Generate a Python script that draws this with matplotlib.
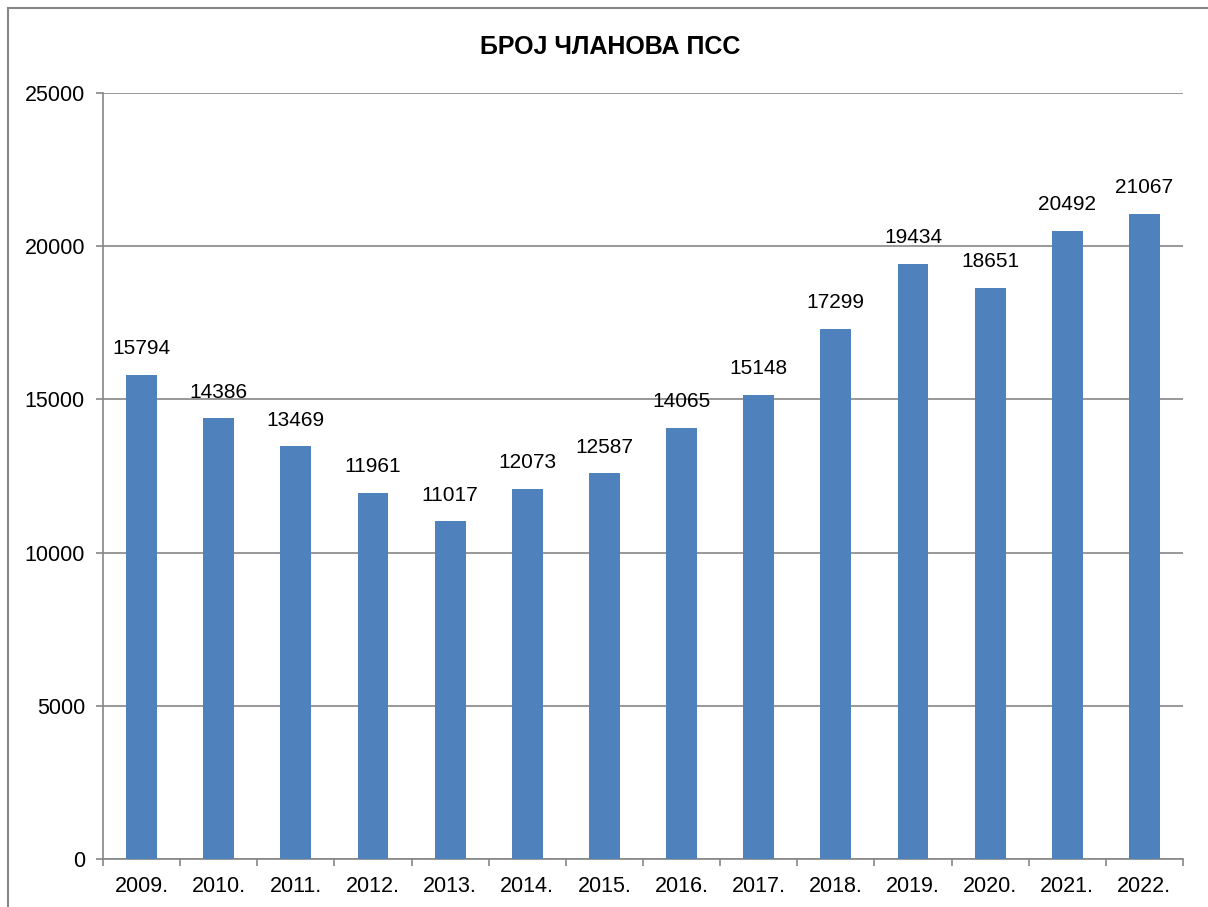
import matplotlib.pyplot as plt

plt.rcParams['font.family'] = ['Liberation Sans', 'DejaVu Sans']

years = ["2009.", "2010.", "2011.", "2012.", "2013.", "2014.", "2015.",
         "2016.", "2017.", "2018.", "2019.", "2020.", "2021.", "2022."]
members = [15794, 14386, 13469, 11961, 11017, 12073, 12587,
           14065, 15148, 17299, 19434, 18651, 20492, 21067]
yticks = [0, 5000, 10000, 15000, 20000, 25000]

W, H = 1208, 907
fig = plt.figure(figsize=(W / 100, H / 100), dpi=100)

# chart area border (left and top only visible)
fig.add_artist(plt.Line2D([8 / W, 8 / W], [0, 1 - 8 / H], color="#868686",
                          lw=1.5, transform=fig.transFigure))
fig.add_artist(plt.Line2D([8 / W, 1], [1 - 8 / H, 1 - 8 / H], color="#868686",
                          lw=1.5, transform=fig.transFigure))

ax = fig.add_axes([103 / W, 1 - 859 / H, (1183 - 103) / W, (859 - 93) / H])

x = list(range(len(years)))
ax.bar(x, members, width=0.4, color="#4F81BD", zorder=3)
for xi, v in zip(x, members):
    ax.annotate(str(v), (xi, v), xytext=(0, 12), textcoords="offset points",
                ha="center", va="bottom", fontsize=15, zorder=4)

ax.set_xlim(-0.5, len(years) - 0.5)
ax.set_ylim(0, 25000)
ax.set_yticks(yticks)
ax.set_yticklabels([str(t) for t in yticks])
ax.yaxis.grid(True, color="#868686", lw=1.2, zorder=0)

ax.set_xticks([i - 0.5 for i in range(len(years) + 1)], minor=False)
ax.set_xticklabels([])
ax.set_xticks(x, minor=True)
ax.set_xticklabels(years, minor=True)
ax.tick_params(axis="x", which="minor", length=0, labelsize=15.5, pad=12)
ax.tick_params(axis="x", which="major", length=5, color="#868686", width=1.2)
ax.tick_params(axis="y", length=5, color="#868686", width=1.2, labelsize=15.5, pad=8)

for s in ["top", "right"]:
    ax.spines[s].set_visible(False)
for s in ["left", "bottom"]:
    ax.spines[s].set_color("#868686")
    ax.spines[s].set_linewidth(1.2)

fig.text(610 / W, 1 - 47 / H, "БРОЈ ЧЛАНОВА ПСС", ha="center", va="center",
         fontsize=18, fontweight="bold")

fig.savefig("out.png", dpi=100)
